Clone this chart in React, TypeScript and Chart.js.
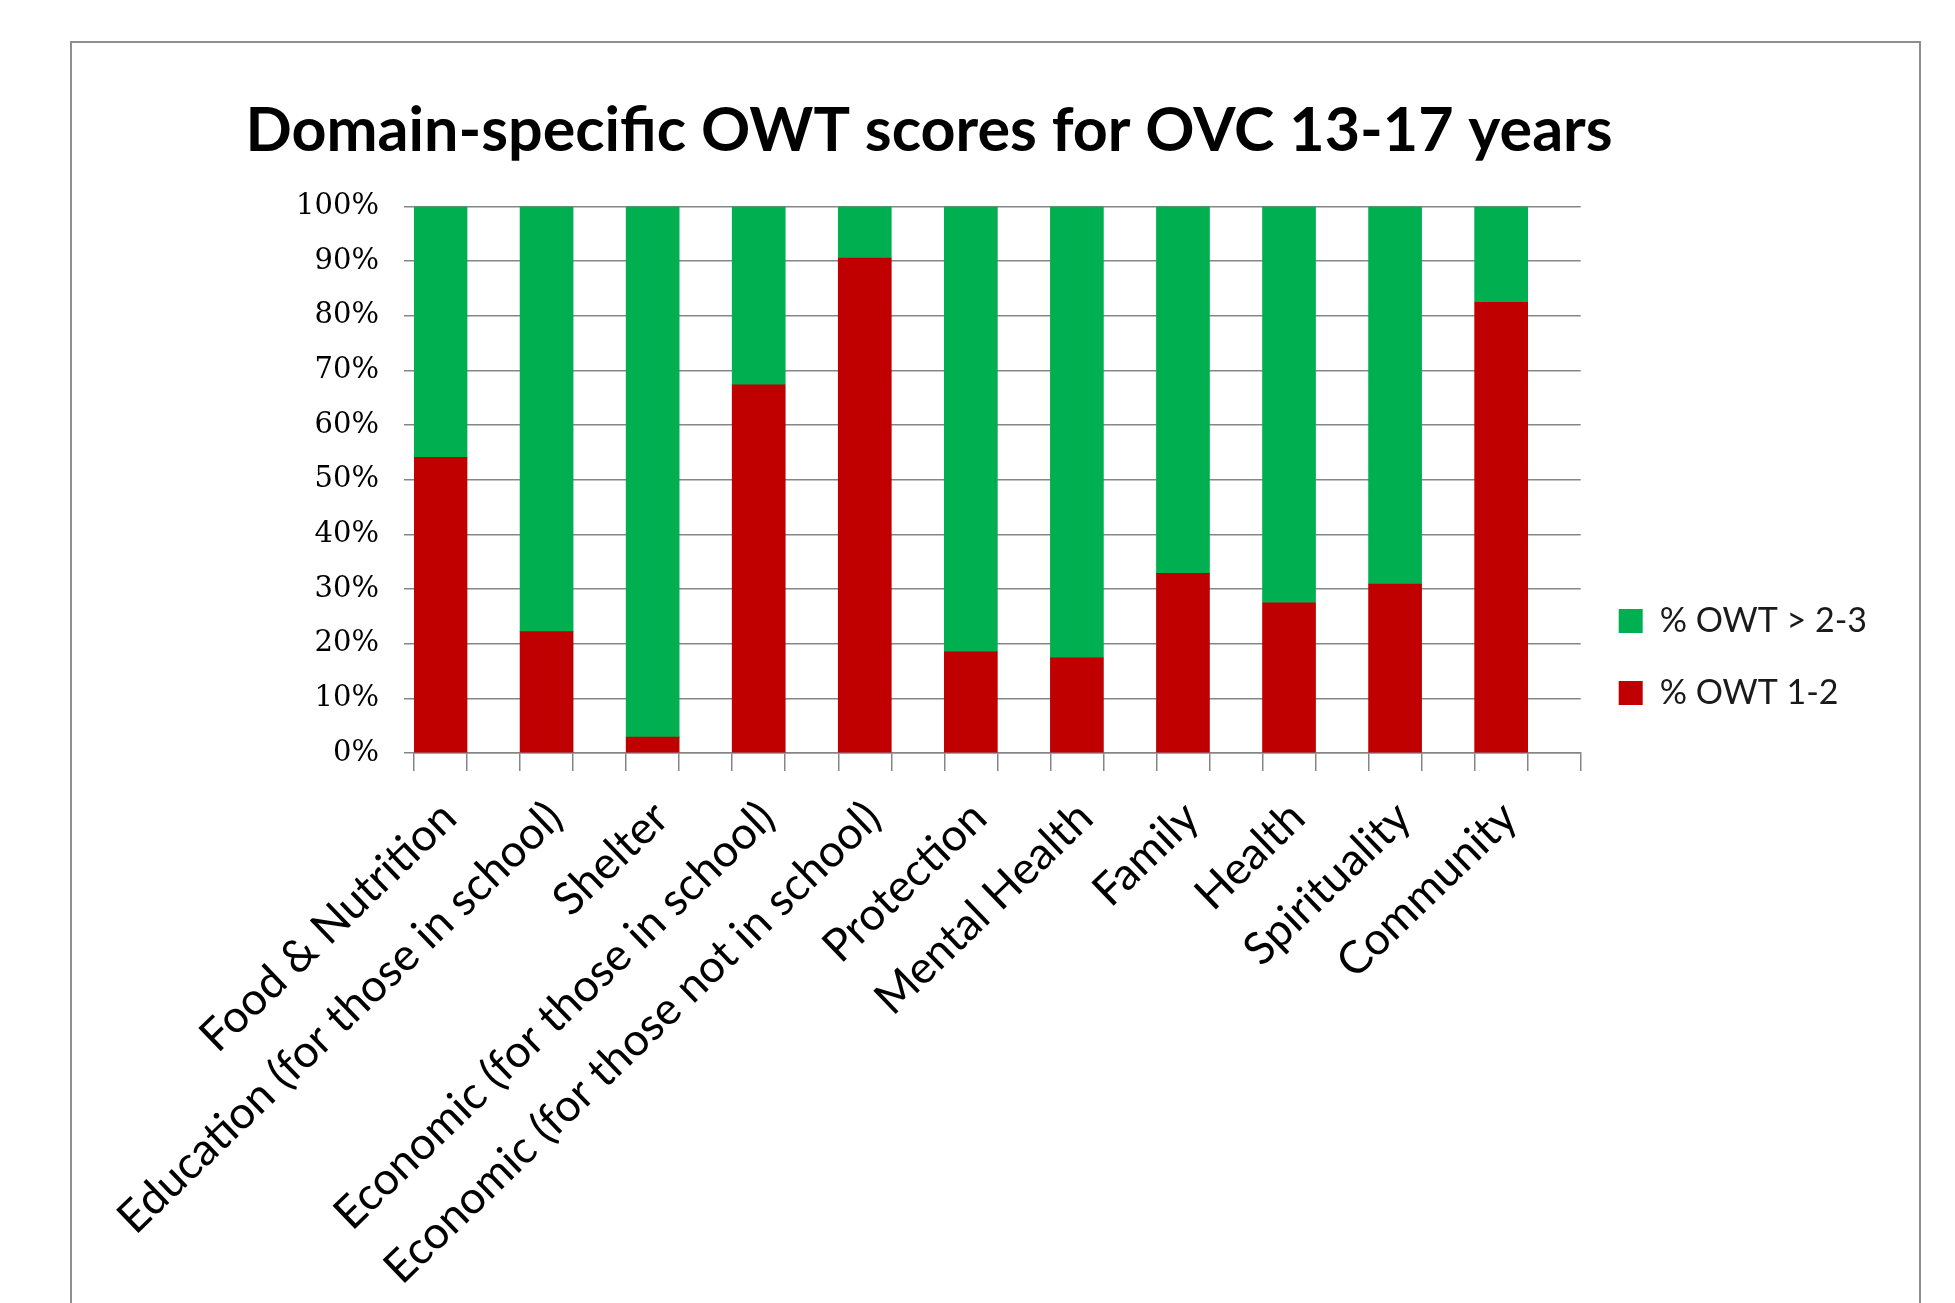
import React, { useEffect, useRef } from 'react';
import { Chart, registerables } from 'chart.js';

Chart.register(...registerables);

const categories = [
  'Food & Nutrition',
  'Education (for those in school)',
  'Shelter',
  'Economic (for those in school)',
  'Economic (for those not in school)',
  'Protection',
  'Mental Health',
  'Family',
  'Health',
  'Spirituality',
  'Community',
];
const owtLow = [54.1, 22.2, 2.9, 67.4, 90.6, 18.5, 17.4, 32.9, 27.5, 30.9, 82.5];
const owtHigh = [45.9, 77.8, 97.1, 32.6, 9.4, 81.5, 82.6, 67.1, 72.5, 69.1, 17.5];
const spacer = [0, 0, 0, 0, 0, 0, 0, 0, 0, 0, 0];
const halfSlots = ['', '', '', '', '', '', '', '', '', '', '', '', '', '', '', '', '', '', '', '', '', ''];
const seriesNames = ['% OWT 1-2', '% OWT > 2-3'];
const titleText = 'Domain-specific OWT scores for OVC 13-17 years';

const GRID = '#868686';

export default function App() {
  const ref = useRef<HTMLCanvasElement | null>(null);
  useEffect(() => {
    if (!ref.current) return;
    const chart = new Chart(ref.current, {
      type: 'bar',
      data: {
        labels: categories,
        datasets: [
          { label: seriesNames[0], data: owtLow, backgroundColor: '#C00000', stack: 'a', borderWidth: 0 },
          { label: seriesNames[1], data: owtHigh, backgroundColor: '#00B050', stack: 'a', borderWidth: 0 },
          { label: 'spacer', data: spacer, backgroundColor: 'rgba(0,0,0,0)', stack: 'b', borderWidth: 0 },
        ],
      },
      options: {
        responsive: false,
        animation: false,
        events: [],
        datasets: { bar: { barPercentage: 1, categoryPercentage: 1 } },
        layout: { padding: { left: -19, top: 11, right: 78, bottom: 0 } },
        plugins: {
          tooltip: { enabled: false },
          title: {
            display: true,
            text: titleText,
            color: '#000',
            font: { family: 'Lato', size: 61, weight: 'bold', lineHeight: 1.2 },
            padding: { top: 84, bottom: 38.4 },
          },
          legend: {
            position: 'right',
            reverse: true,
            labels: {
              filter: (item: any) => item.datasetIndex !== 2,
              color: '#1a1a1a',
              font: { family: 'Lato', size: 34 },
              boxWidth: 24,
              boxHeight: 24,
              padding: 38,
            },
          },
        },
        scales: {
          x: {
            type: 'category',
            stacked: true,
            offset: true,
            weight: 1,
            grid: { display: false },
            border: { display: false },
            ticks: {
              color: '#000',
              font: { family: 'Lato', size: 45 },
              minRotation: 44,
              maxRotation: 44,
              autoSkip: false,
              padding: 12,
              labelOffset: -18,
            },
            afterFit: (s: any) => { s.height = 532; },
          },
          xt: {
            type: 'category',
            position: 'bottom',
            labels: halfSlots,
            offset: true,
            weight: 0,
            grid: { display: true, offset: true, drawOnChartArea: false, tickLength: 18, color: GRID, lineWidth: 1.5 },
            border: { display: true, color: GRID, width: 1.5 },
            ticks: { display: false },
            afterFit: (s: any) => { s.height = 18; },
          },
          y: {
            stacked: true,
            min: 0,
            max: 100,
            border: { display: false },
            grid: { color: GRID, lineWidth: 1.5, tickLength: 10 },
            ticks: {
              stepSize: 10,
              color: '#000',
              font: { family: 'DejaVu Serif', size: 29 },
              padding: 25,
              callback: (v: any) => v + '%',
            },
            afterFit: (s: any) => { s.width = 433; },
          },
        },
      },
    });
    return () => chart.destroy();
  }, []);
  return (
    <div style={{ position: 'fixed', left: 0, top: 0, width: 1955, height: 1303, overflow: 'hidden', background: '#fff' }}>
      <div style={{ position: 'absolute', left: 70, top: 41, width: 1851, height: 1400, border: '2.5px solid #8e8e8e', boxSizing: 'border-box' }} />
      <canvas ref={ref} width={1955} height={1303} style={{ position: 'absolute', left: 0, top: 0, width: 1955, height: 1303 }} />
    </div>
  );
}
